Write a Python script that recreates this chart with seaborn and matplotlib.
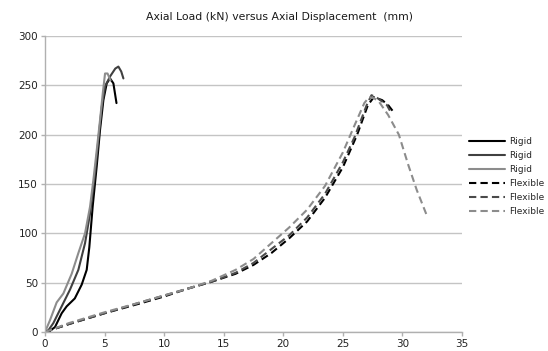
import matplotlib
matplotlib.use("Agg")
import matplotlib.pyplot as plt
import seaborn as sns
import pandas as pd

# ---- data ----
rigid1_x = [0, 0.4, 0.84, 1.4, 1.82, 2.5, 3.08, 3.5, 3.72, 4.0, 4.34, 4.62, 4.9, 5.18, 5.46, 5.74, 6.0]
rigid1_y = [0, 1, 5, 19, 26, 34, 48, 63, 86, 127, 168, 205, 235, 252, 257, 252, 232]

rigid2_x = [0, 0.3, 0.7, 1.4, 2.1, 2.8, 3.36, 3.78, 4.2, 4.48, 4.76, 5.04, 5.46, 5.9, 6.16, 6.4, 6.58]
rigid2_y = [0, 2, 9, 26, 43, 63, 90, 120, 161, 195, 228, 249, 259, 267, 269, 264, 257]

rigid3_x = [0, 0.42, 0.98, 1.54, 2.24, 2.8, 3.36, 3.78, 4.06, 4.34, 4.62, 4.85, 5.04, 5.25, 5.5]
rigid3_y = [0, 12, 30, 39, 59, 80, 100, 127, 154, 184, 215, 242, 262, 262, 255]

flex1_x = [0, 2, 5, 8, 10, 12, 14, 16, 17.5, 19, 20.5, 22, 23.5, 25, 26.2, 27.1, 27.6, 28.3, 28.8, 29.25]
flex1_y = [0, 8, 19, 29, 36, 44, 51, 59, 68, 80, 95, 112, 136, 167, 200, 230, 238, 235, 230, 223]

flex2_x = [0, 2, 5, 8, 10, 12, 14, 16, 17.5, 19, 20.5, 22, 23.5, 25, 26, 27, 27.4, 27.8, 28.7, 29.1]
flex2_y = [0, 8, 19, 30, 37, 44, 51, 60, 70, 84, 98, 116, 140, 172, 198, 230, 240, 238, 230, 221]

flex3_x = [0, 2, 5, 8, 10, 12, 14, 16, 17.5, 19, 20.5, 22, 23.5, 25, 26, 26.8, 27.2, 27.6, 28, 28.8, 29.7, 30.5, 31.2, 32.05]
flex3_y = [0, 9, 20, 30, 37, 44, 52, 63, 74, 90, 106, 124, 148, 182, 210, 232, 238, 237, 234, 220, 200, 169, 144, 118]

labels = ["Rigid", "Rigid", "Rigid", "Flexible", "Flexible", "Flexible"]
title = "Axial Load (kN) versus Axial Displacement  (mm)"
x_ticks = [0, 5, 10, 15, 20, 25, 30, 35]
y_ticks = [0, 50, 100, 150, 200, 250, 300]

series_x = [rigid1_x, rigid2_x, rigid3_x, flex1_x, flex2_x, flex3_x]
series_y = [rigid1_y, rigid2_y, rigid3_y, flex1_y, flex2_y, flex3_y]

colors = ["#000000", "#404040", "#8c8c8c", "#000000", "#4a4a4a", "#8c8c8c"]
styles = ["-", "-", "-", (0, (3.5, 2)), (0, (3.5, 2)), (0, (3.5, 2))]

sns.set_style("white")
plt.rcParams["font.family"] = ["DejaVu Sans"]

fig = plt.figure(figsize=(5.48, 3.51), dpi=100)
ax = fig.add_axes([45 / 548, 19 / 351, (462 - 45) / 548, (332 - 36) / 351])

for i, (xs, ys) in enumerate(zip(series_x, series_y)):
    df = pd.DataFrame({"x": xs, "y": ys})
    sns.lineplot(data=df, x="x", y="y", ax=ax, sort=False, estimator=None,
                 color=colors[i], linestyle=styles[i], linewidth=1.5,
                 label=labels[i])

ax.set_xlim(0, 35)
ax.set_ylim(0, 300)
ax.set_xticks(x_ticks)
ax.set_yticks(y_ticks)
ax.set_xlabel("")
ax.set_ylabel("")
ax.yaxis.grid(True, color="#c4c4c4", linewidth=1)
ax.xaxis.grid(False)
for s in ["top", "right"]:
    ax.spines[s].set_visible(False)
for s in ["left", "bottom"]:
    ax.spines[s].set_color("#b0b0b0")
    ax.spines[s].set_linewidth(1)
ax.tick_params(axis="both", which="both", length=3, width=1, color="#b0b0b0",
               labelsize=7.5, labelcolor="#222222", pad=2, direction="out",
               bottom=True, left=True)

fig.text(279 / 548, 1 - 17 / 351, title, ha="center", va="center",
         fontsize=7.8, color="#1a1a1a")

leg = ax.legend(loc="upper left", bbox_to_anchor=(469 / 548, 1 - 137 / 351),
                bbox_transform=fig.transFigure, frameon=False, fontsize=6.5,
                handlelength=4.0, handletextpad=0.45, labelspacing=0.55,
                borderaxespad=0, borderpad=0)

fig.savefig("out.png", dpi=100)
